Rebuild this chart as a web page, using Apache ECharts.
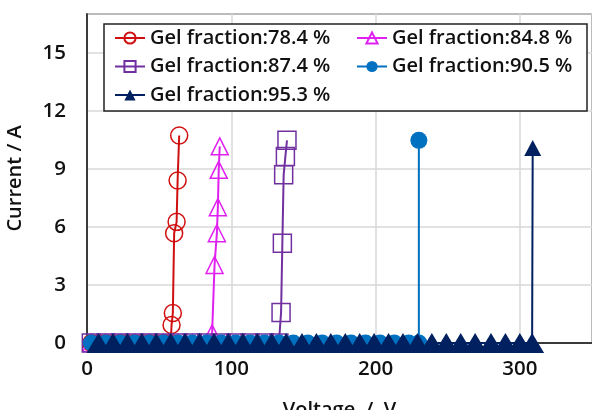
<!DOCTYPE html>
<html>
<head>
<meta charset="utf-8">
<script src="https://cdn.jsdelivr.net/npm/echarts@6/dist/echarts.min.js"></script>
<style>
    html, body { margin: 0; padding: 0; background: #fff; }
    #chart { width: 592px; height: 410px; }
</style>
</head>
<body>
<div id="chart"></div>
<script>
    // 数据 (Voltage / V, Current / A)
    const names = ['Gel fraction:78.4 %', 'Gel fraction:84.8 %', 'Gel fraction:87.4 %', 'Gel fraction:90.5 %', 'Gel fraction:95.3 %'];

    const redV = [3, 13, 23, 33, 43, 53, 58, 58.6, 59.5, 60.4, 62.1, 62.8, 63.9];
    const redI = [0, 0, 0, 0, 0, 0, 0, 0.93, 1.55, 5.67, 6.26, 8.40, 10.72];

    const magentaV = [3, 13, 23, 33, 43, 53, 63, 73, 83, 86.7, 88.4, 90.0, 90.7, 91.3, 92.0];
    const magentaI = [0, 0, 0, 0, 0, 0, 0, 0, 0, 0.5, 4.03, 5.67, 7.02, 8.95, 10.16];

    const purpleV = [3, 13, 23, 33, 43, 53, 63, 73, 83, 93, 103, 113, 123, 133, 134.5, 135.4, 136.3, 137.5, 138.6];
    const purpleI = [0, 0, 0, 0, 0, 0, 0, 0, 0, 0, 0, 0, 0, 0, 1.57, 5.16, 8.69, 9.64, 10.47];

    const blueV = [3, 13, 23, 33, 43, 53, 63, 73, 83, 93, 103, 113, 123, 133, 143, 153, 163, 173, 183, 193, 203, 213, 223, 230, 230];
    const blueI = [0, 0, 0, 0, 0, 0, 0, 0, 0, 0, 0, 0, 0, 0, 0, 0, 0, 0, 0, 0, 0, 0, 0, 0, 10.47];

    const navyV = [8, 18, 28, 38, 48, 58, 68, 78, 88, 98, 108, 118, 128, 138, 149, 159, 169, 179, 189, 199, 209, 219, 229, 239, 249, 259, 269, 280, 290, 300, 308.5, 308.9];
    const navyI = [0, 0, 0, 0, 0, 0, 0, 0, 0, 0, 0, 0, 0, 0, 0, 0, 0, 0, 0, 0, 0, 0, 0, 0, 0, 0, 0, 0, 0, 0, 0, 10.07];

    const xTicks = [0, 100, 200, 300];
    const yTicks = [0, 3, 6, 9, 12, 15];

    function pairs(v, i) {
        return v.map((x, k) => [x, i[k]]);
    }

    const font = '"Open Sans", "Noto Sans", sans-serif';

    function hollow(name, color, symbol, size, v, i) {
        return {
            name: name,
            type: 'line',
            symbol: symbol,
            symbolSize: size,
            data: pairs(v, i),
            lineStyle: { color: color, width: 2 },
            itemStyle: { color: 'rgba(255,255,255,0)', borderColor: color, borderWidth: 1.5 }
        };
    }

    function filled(name, color, symbol, size, v, i) {
        return {
            name: name,
            type: 'line',
            symbol: symbol,
            symbolSize: size,
            data: pairs(v, i),
            lineStyle: { color: color, width: 2 },
            itemStyle: { color: color }
        };
    }

    const legendText = {
        fontFamily: font,
        fontSize: 20,
        fontWeight: 600,
        color: '#111',
        lineHeight: 22
    };

    let myChart = echarts.init(document.getElementById('chart'));
    myChart.setOption({
        animation: false,
        grid: {
            left: 87,
            right: 0,
            top: 14,
            bottom: 67,
            outerBoundsMode: 'none',
            containLabel: false,
            show: true,
            borderColor: '#333',
            borderWidth: 1.5
        },
        graphic: [{
            type: 'rect',
            z: 3,
            shape: { x: 104, y: 24, width: 483, height: 87 },
            style: { fill: '#fff', stroke: '#222', lineWidth: 1.5 }
        }],
        legend: [{
            data: [names[0], names[2], names[4]],
            orient: 'vertical',
            left: 114,
            top: 27,
            padding: 0,
            itemWidth: 30,
            itemHeight: 14,
            itemGap: 6.5,
            textStyle: legendText
        }, {
            data: [names[1], names[3]],
            orient: 'vertical',
            left: 356,
            top: 27,
            padding: 0,
            itemWidth: 30,
            itemHeight: 14,
            itemGap: 6.5,
            textStyle: legendText
        }],
        xAxis: {
            type: 'value',
            min: 0,
            max: 350,
            interval: 100,
            name: 'Voltage  /  V',
            nameLocation: 'middle',
            nameGap: 57,
            nameTextStyle: { fontFamily: font, fontSize: 20, fontWeight: 600, color: '#111' },
            axisLine: { lineStyle: { color: '#111', width: 1.5 } },
            axisTick: { show: false },
            axisLabel: {
                fontFamily: font,
                fontSize: 20.5,
                fontWeight: 600,
                color: '#111',
                margin: 16,
                showMaxLabel: false,
                formatter: v => xTicks.includes(v) ? String(v) : ''
            },
            splitLine: { lineStyle: { color: '#d9d9d9', width: 1.5 } }
        },
        yAxis: {
            type: 'value',
            min: 0,
            max: 17,
            interval: 3,
            name: 'Current / A',
            nameLocation: 'middle',
            nameGap: 62,
            nameTextStyle: { fontFamily: font, fontSize: 20, fontWeight: 600, color: '#111' },
            axisLine: { show: true, lineStyle: { color: '#111', width: 1.5 } },
            axisTick: { show: false },
            axisLabel: {
                fontFamily: font,
                fontSize: 20.5,
                fontWeight: 600,
                color: '#111',
                margin: 21,
                showMaxLabel: false,
                formatter: v => yTicks.includes(v) ? String(v) : ''
            },
            splitLine: { lineStyle: { color: '#d9d9d9', width: 1.5 } }
        },
        series: [
            hollow(names[0], '#d01010', 'circle', 17, redV, redI),
            hollow(names[1], '#e020f0', 'triangle', 17, magentaV, magentaI),
            hollow(names[2], '#7030a0', 'rect', 18, purpleV, purpleI),
            filled(names[3], '#0070c0', 'circle', 17, blueV, blueI),
            // 零电流处的三角形画得更大，连成一条带
            filled(names[4], '#002060', 'triangle', val => val[1] > 0 ? [17, 16] : [24, 20], navyV, navyI)
        ]
    });
</script>
</body>
</html>
